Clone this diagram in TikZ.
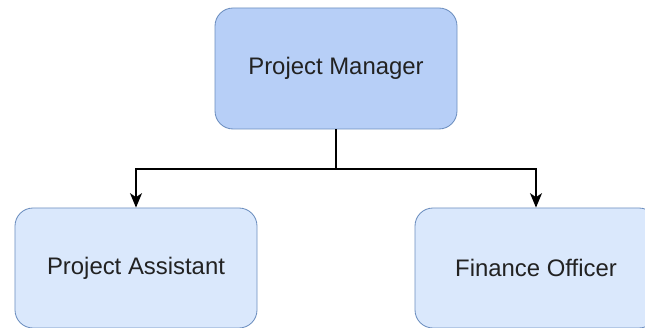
\documentclass[tikz,border=0pt]{standalone}
\usepackage{fontspec}
\setmainfont{Liberation Sans}
\usetikzlibrary{arrows.meta}
\definecolor{topfill}{HTML}{B7CFF7}
\definecolor{subfill}{HTML}{DAE8FC}
\definecolor{edgeblue}{HTML}{6C8EBF}
\definecolor{txtgray}{HTML}{222222}
\tikzset{
	rolebox/.style={draw=edgeblue, line width=0.6pt, rounded corners=0.45cm,
		minimum width=6.05cm, minimum height=3cm, inner sep=0pt,
		text=txtgray, font=\fontsize{17}{20}\selectfont},
	link/.style={line width=0.9pt, -{Stealth[length=0.36cm,width=0.3cm,inset=0.1cm]}}
}
\begin{document}
\begin{tikzpicture}
		%%%%% START %%%%%
		\useasboundingbox (0, 0) rectangle (16.125, -8.2);
		
		\node[rolebox, fill=topfill, minimum height=3.025cm] (manager) at (8.4, -1.7125) {Project Manager};
		\node[rolebox, fill=subfill] (assistant) at (3.4, -6.7) {Project Assistant};
		\node[rolebox, fill=subfill] (finance) at (13.4, -6.7) {Finance Officer};
		
		\coordinate (split) at (8.4, -4.225);
		\draw[line width=0.9pt] (manager.south) -- (split);
		\draw[link] (split) -| (assistant.north);
		\draw[link] (split) -| (finance.north);
		%%%%% END %%%%%
	\end{tikzpicture}
\end{document}
